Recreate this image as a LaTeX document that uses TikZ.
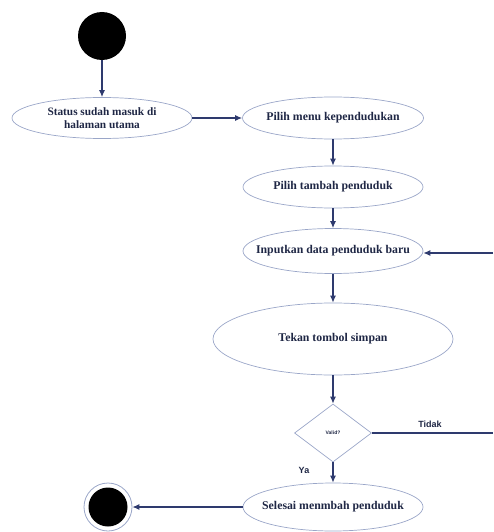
\documentclass[tikz,border=0pt]{standalone}
\usepackage{fontspec}
\setmainfont{Liberation Serif}
\newfontfamily\labelfont{Liberation Sans}
\usetikzlibrary{shapes.geometric,arrows.meta}
\definecolor{edge}{HTML}{9AA6C8}
\definecolor{arrowc}{HTML}{2E3A6E}
\definecolor{txt}{HTML}{1F2745}
\tikzset{
  x=1pt,y=-1pt,
  act/.style={ellipse,draw=edge,line width=0.7pt,inner sep=0pt},
  acttext/.style={text=txt,font=\bfseries\fontsize{11.8}{13.5}\selectfont,align=center,inner sep=0pt},
  flow/.style={draw=arrowc,line width=1.1pt,-{Latex[length=7pt,width=6pt]}},
  plain/.style={draw=arrowc,line width=1.1pt},
  lab/.style={text=txt,font=\labelfont\bfseries\fontsize{9}{10}\selectfont}
}
\begin{document}
\begin{tikzpicture}
\useasboundingbox (0,0) rectangle (493,532);
\node[circle,fill=black,minimum size=48pt,inner sep=0pt] (start) at (102,36) {};
\node[act,minimum width=180pt,minimum height=41pt,label={[acttext,font=\bfseries\fontsize{11.3}{13}\selectfont]center:Status sudah masuk di\\halaman utama}] (s1) at (102,118) {};
\node[act,minimum width=181pt,minimum height=42pt,label={[acttext]center:Pilih menu kependudukan}] (s2) at (333,118) {};
\node[act,minimum width=180pt,minimum height=42pt,label={[acttext]center:Pilih tambah penduduk}] (s3) at (333,187) {};
\node[act,minimum width=180pt,minimum height=45pt,label={[acttext]center:Inputkan data penduduk baru}] (s4) at (333,251) {};
\node[act,minimum width=240pt,minimum height=72pt,label={[acttext]center:Tekan tombol simpan}] (s5) at (333,339) {};
\node[diamond,draw=edge,line width=0.7pt,minimum width=77pt,minimum height=58pt,inner sep=0pt,text=txt,font=\labelfont\bfseries\fontsize{5}{6}\selectfont] (dec) at (333,433) {Valid?};
\node[act,minimum width=180pt,minimum height=48pt,label={[acttext]center:Selesai menmbah penduduk}] (s6) at (333,507) {};
\node[circle,draw=edge,line width=0.8pt,minimum size=48pt,inner sep=0pt] (endo) at (108,507) {};
\node[circle,fill=black,minimum size=39pt,inner sep=0pt] (endi) at (108,507) {};
\coordinate (rin) at (493,253);
\coordinate (rout) at (493,433);
\draw[flow] (start) -- (s1.north -| start);
\draw[flow] (s1) -- (s2);
\draw[flow] (s2) -- (s3);
\draw[flow] (s3) -- (s4);
\draw[flow] (rin) -- (rin -| s4.east);
\draw[flow] (s4) -- (s5);
\draw[flow] (s5) -- (dec);
\draw[plain] (dec.east) -- (rout);
\draw[flow] (dec) -- (s6);
\draw[flow] (s6) -- (endo);
\node[lab] (tidak) at (430,424) {Tidak};
\node[lab] (ya) at (304,470) {Ya};
\end{tikzpicture}
\end{document}
